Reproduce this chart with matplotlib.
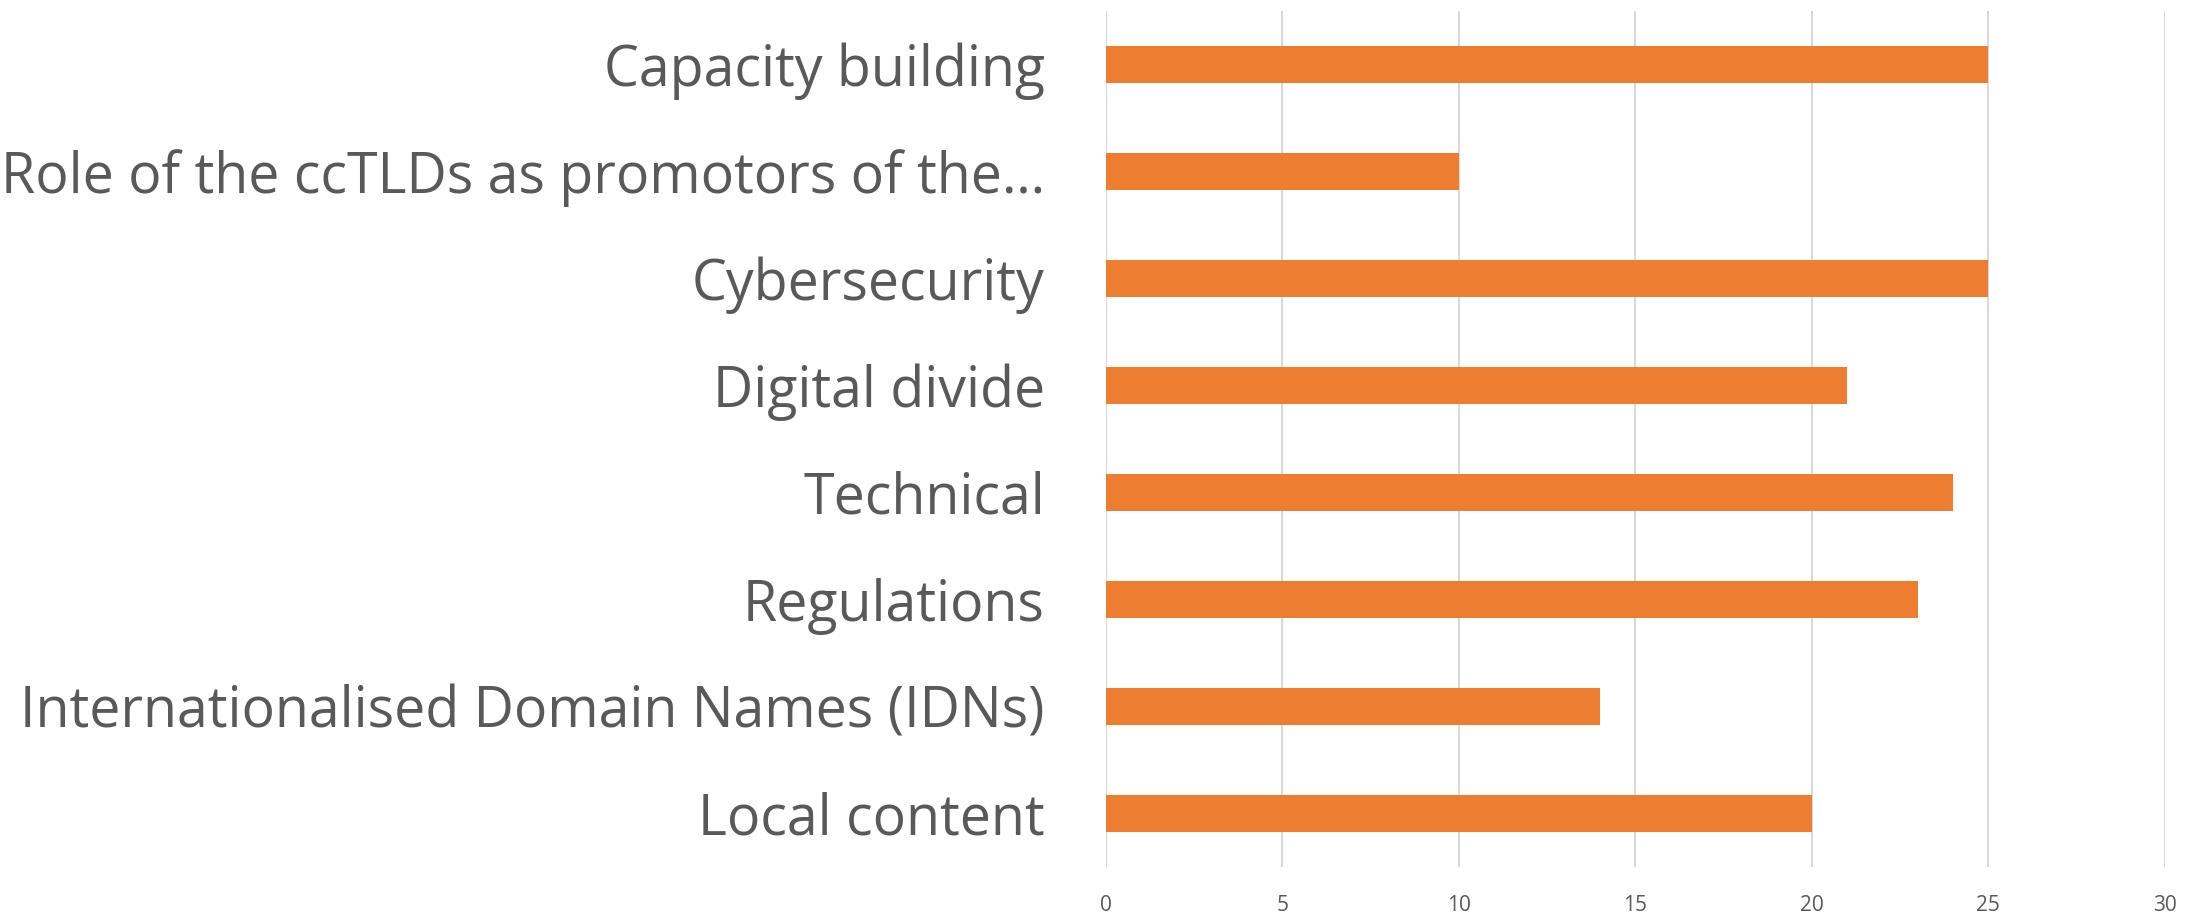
import matplotlib
matplotlib.use("Agg")
import matplotlib.pyplot as plt

categories = [
    "Capacity building",
    "Role of the ccTLDs as promotors of the\u2026",
    "Cybersecurity",
    "Digital divide",
    "Technical",
    "Regulations",
    "Internationalised Domain Names (IDNs)",
    "Local content",
]
values = [25, 10, 25, 21, 24, 23, 14, 20]
xticks = [0, 5, 10, 15, 20, 25, 30]

fig = plt.figure(figsize=(22.03, 9.18), dpi=100)
ax = fig.add_axes([0.502, 0.0556, 0.4807, 0.9324])

pos = list(range(len(categories)))[::-1]
ax.barh(pos, values, height=0.345, color="#ED7D31", zorder=3)

ax.set_xlim(0, 30)
ax.set_ylim(-0.5, len(categories) - 0.5)
ax.set_xticks(xticks)
ax.set_yticks(pos)
ax.set_yticklabels(categories, fontsize=40, color="#595959", family="Open Sans")
ax.set_xticklabels([str(t) for t in xticks], fontsize=15, color="#595959", family="Open Sans")
ax.tick_params(axis="y", length=0, pad=44)
ax.tick_params(axis="x", length=0, pad=20)
ax.grid(axis="x", color="#D9D9D9", linewidth=1.5, zorder=0)
for s in ax.spines.values():
    s.set_visible(False)

fig.savefig("out.png", dpi=100)
